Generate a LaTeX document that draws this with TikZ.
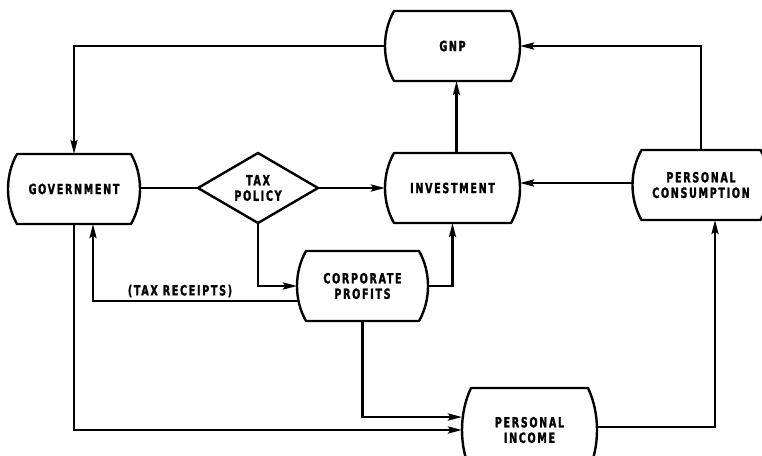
\documentclass[tikz,border=0pt]{standalone}
\usepackage{fontspec}
\newfontfamily\lblfont{DejaVu Sans Condensed}[FakeStretch=0.76,LetterSpace=12,FakeBold=1.5]
\usetikzlibrary{arrows.meta,shapes.geometric,calc}
\begin{document}
\begin{tikzpicture}[x=1pt,y=-1pt,
  txt/.style={font=\lblfont\bfseries\fontsize{14}{15.5}\selectfont, align=center},
  barrel/.style={txt, rectangle, inner sep=0pt, outer sep=0pt, minimum width=135pt, minimum height=70pt},
  dec/.style={txt, diamond, aspect=1.7, inner sep=0pt, outer sep=0pt, minimum width=120pt, minimum height=70pt, draw, line width=2.4pt, line join=round},
  conn/.style={line width=2.6pt},
  arr/.style={conn, -{Stealth[length=14pt,width=7pt,inset=2.5pt]}},
  outline/.style={line width=2.4pt, line join=round}]
\useasboundingbox (0,0) rectangle (762,455);
\node[barrel] (gnp) at (452.5,46) {GNP};
\node[barrel, minimum width=132pt] (gov) at (74,189) {GOVERNMENT};
\node[dec] (tax) at (258,188) {TAX\\POLICY};
\node[barrel] (inv) at (452.5,188) {INVESTMENT};
\node[barrel, minimum width=131pt] (cp) at (362.5,286) {CORPORATE\\PROFITS};
\node[barrel, minimum width=137pt] (pc) at (701,185) {PERSONAL\\CONSUMPTION};
\node[barrel, minimum height=84pt] (pi) at (529.5,430) {PERSONAL\\INCOME};
\foreach \n in {gnp,gov,inv,cp,pc,pi}{
  \draw[outline] ($(\n.north west)+(9,0)$) -- ($(\n.north east)+(-9,0)$)
    .. controls ($(\n.north east)!0.3!(\n.south east)+(3,0)$) and ($(\n.north east)!0.7!(\n.south east)+(3,0)$) .. ($(\n.south east)+(-9,0)$)
    -- ($(\n.south west)+(9,0)$)
    .. controls ($(\n.south west)!0.3!(\n.north west)+(-3,0)$) and ($(\n.south west)!0.7!(\n.north west)+(-3,0)$) .. cycle;
}
\draw[arr] (gnp.west) -| (gov.north);
\draw[arr] (pc.north) |- (gnp.east);
\draw[arr] ($(inv.north)+(4,0)$) -- ($(gnp.south)+(4,0)$);
\draw[conn] (gov.east |- tax.west) -- (tax.west);
\draw[arr] (tax.east) -- (inv.west);
\draw[arr] ($(pc.west)+(0,-2)$) -- ($(inv.east)+(0,-5)$);
\draw[arr] (tax.south) |- (cp.west);
\draw[arr] ($(cp.west)+(1,15)$) -| ($(gov.south)+(19,0)$);
\node[txt] (tr) at (180,291) {(TAX RECEIPTS)};
\draw[arr] (cp.east) -| (inv.south);
\draw[arr] (cp.south) |- ($(pi.west)+(0,-13)$);
\draw[arr] (gov.south) |- (pi.west);
\draw[arr] ($(pi.east)+(0,-3)$) -| ($(pc.south)+(14,0)$);
\end{tikzpicture}
\end{document}
